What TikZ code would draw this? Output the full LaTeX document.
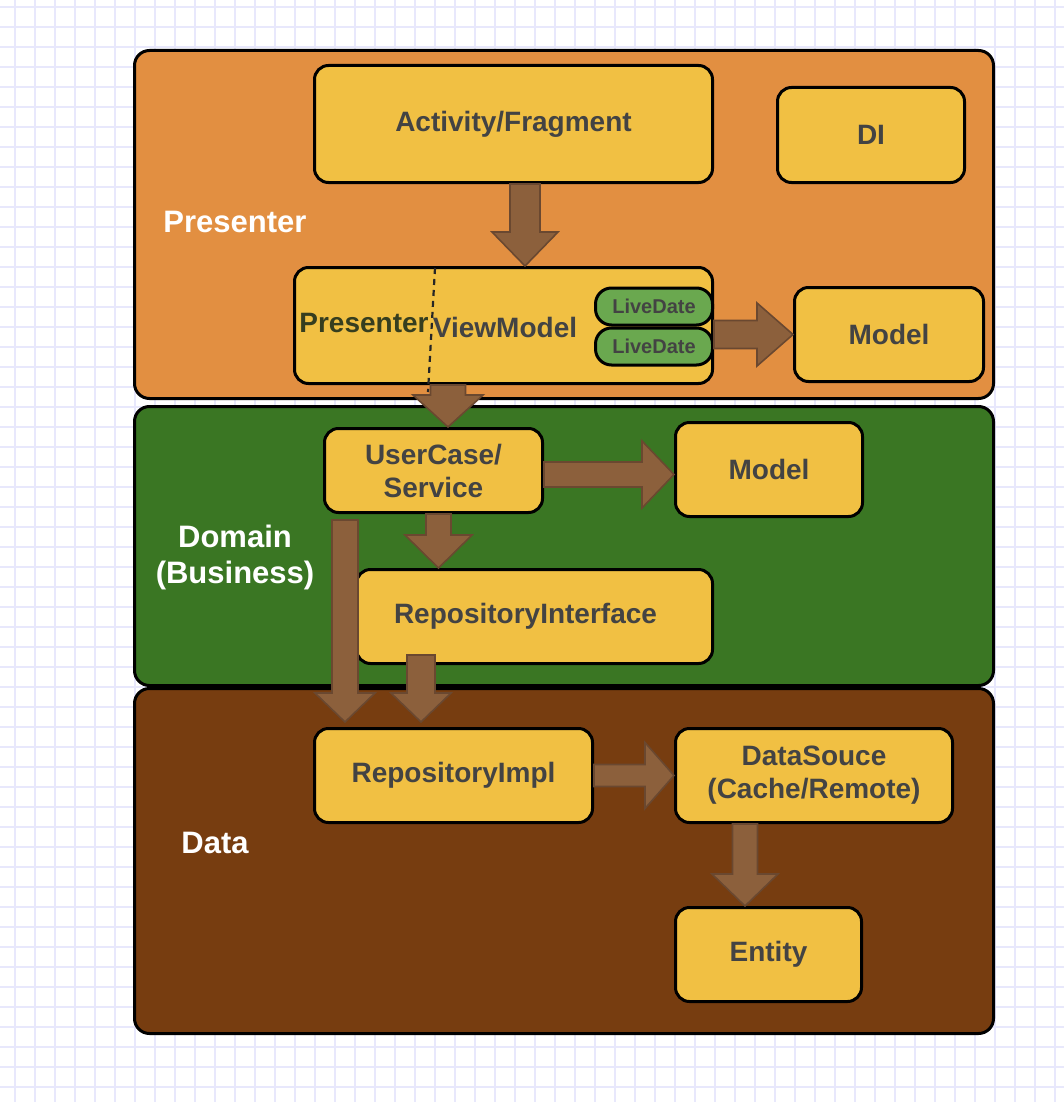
\documentclass[tikz,border=0pt]{standalone}
\usepackage{fontspec}
\setmainfont{Liberation Sans}
\usetikzlibrary{calc,positioning}
\definecolor{gridColor}{RGB}{232,232,252}
\definecolor{presColor}{HTML}{E28F41}
\definecolor{domColor}{HTML}{3A7623}
\definecolor{dataColor}{HTML}{773D10}
\definecolor{boxColor}{HTML}{F1C043}
\definecolor{liveColor}{HTML}{6AA84F}
\definecolor{txtColor}{HTML}{434343}
\definecolor{oliveColor}{HTML}{363E1F}
\definecolor{arrColor}{HTML}{8C603C}
\definecolor{arrLine}{HTML}{6A4830}
\tikzset{
	arr shaft/.store in=\ArrShaft,
	arr shaft=6.5pt,
	arr head/.store in=\ArrHead,
	arr head=16.5pt,
	arr len/.store in=\ArrLen,
	arr len=16pt,
	blockarrow/.style={fill=arrColor, draw=arrLine, line width=0.8pt, line join=miter},
	sz/.style 2 args={minimum width=(#1-3)*0.5pt, minimum height=(#2-3)*0.5pt},
	layer/.style={draw=black, line width=1.5pt, rounded corners=7.5pt, inner sep=0pt},
	box/.style={draw=black, line width=1.5pt, rounded corners=7pt, fill=boxColor,
			text=txtColor, font=\bfseries\fontsize{14}{16.5}\selectfont, align=center, inner sep=0pt},
	live/.style={box, fill=liveColor, rounded corners=8pt, font=\bfseries\fontsize{10}{12}\selectfont},
	lbl/.style={text=white, font=\bfseries\fontsize{15.5}{18}\selectfont, align=center},
	divider/.style={dash pattern=on 3pt off 2.5pt, line width=1.1pt, draw=black!85}
}
\newcommand{\blockarrow}[3][]{%
	\begin{scope}[#1]
		\coordinate (ba s) at #2;
		\coordinate (ba e) at #3;
		\coordinate (ba b) at ($(ba e)!\ArrLen!(ba s)$);
		\filldraw[blockarrow] ($(ba s)!\ArrShaft!90:(ba e)$) -- ($(ba b)!\ArrShaft!90:(ba e)$)
			-- ($(ba b)!\ArrHead!90:(ba e)$) -- (ba e) -- ($(ba b)!\ArrHead!-90:(ba e)$)
			-- ($(ba b)!\ArrShaft!-90:(ba e)$) -- ($(ba s)!\ArrShaft!-90:(ba e)$) -- cycle;
	\end{scope}}

\begin{document}
\begin{tikzpicture}[x=0.5pt, y=-0.5pt]
	\useasboundingbox (0,0) rectangle (1064,1102);
	\fill[white] (0,0) rectangle (1064,1102);
	\draw[gridColor, line width=0.6pt, step=10pt, shift={(15,7)}] (-15,-7) grid (1049,1095);
	
	% layers
	\node[layer, fill=presColor, sz={862}{351}] (pres) at (564,224.5) {};
	\node[layer, fill=domColor, sz={862}{282}] (dom) at (564,546) {};
	\node[layer, fill=dataColor, sz={862}{348}] (data) at (564,861) {};
	\node[lbl] (presLbl) at (235,222) {Presenter};
	\node[lbl] (domLbl) at (235,557) {Domain\\(Business)};
	\node[lbl] (dataLbl) at (215,843) {Data};
	
	% presenter
	\node[box, sz={401}{120}] (act) at (513.5,124) {Activity/Fragment};
	\node[box, sz={190}{98}] (di) at (871,135) {DI};
	\node[box, sz={421}{119}] (vm) at (503.5,325.5) {};
	\node[text=oliveColor, font=\bfseries\fontsize{14}{16}\selectfont, inner sep=0pt] (vmPres) at (364,323) {Presenter};
	\node[text=txtColor, font=\bfseries\fontsize{14}{16}\selectfont, inner sep=0pt] (vmView) at (505,327) {ViewModel};
	\node[live, sz={120}{40}] (ld1) at (654,306.5) {LiveDate};
	\node[live, sz={120}{40}] (ld2) at (654,346.5) {LiveDate};
	\node[box, sz={192}{97}] (pmodel) at (889,334.5) {Model};
	\draw[divider] ($(vm.north west)+(142,2)$) -- ($(vm.south west)+(135,7)$);
	
	% domain
	\node[box, sz={221}{87}] (uc) at (433.5,470.5) {UserCase/\\Service};
	\node[box, sz={190}{97}] (dmodel) at (769,469.5) {Model};
	\node[box, sz={359}{97}] (repoif) at (534.5,616.5) {RepositoryInterface\hspace*{9pt}};
	
	% data
	\node[box, sz={281}{97}] (repoimpl) at (453.5,775.5) {RepositoryImpl};
	\node[box, sz={280}{97}] (ds) at (814,775.5) {DataSouce\\(Cache/Remote)};
	\node[box, sz={189}{97}] (entity) at (768.5,954.5) {Entity};
	
	% arrows
	\coordinate (a1) at ($(act.south)+(11.5,0)$);
	\blockarrow[arr shaft=7.5pt, arr head=16.5pt, arr len=17pt]{(a1)}{(a1 |- vm.north)}
	\blockarrow[arr shaft=7pt, arr head=15.75pt, arr len=18pt]{(vm.east |- pmodel.west)}{(pmodel.west)}
	\coordinate (a3) at ($(uc.north)+(14.5,0)$);
	\blockarrow[arr shaft=8.75pt, arr head=17.5pt, arr len=16pt]{(a3 |- vm.south)}{(a3)}
	\coordinate (a4) at ($(uc.east)+(0,4)$);
	\blockarrow[arr shaft=6.25pt, arr head=16.75pt, arr len=16pt]{(a4)}{(a4 -| dmodel.west)}
	\coordinate (a5) at ($(uc.south)+(5,0)$);
	\blockarrow[arr shaft=6.25pt, arr head=16.75pt, arr len=16.5pt]{(a5)}{(a5 |- repoif.north)}
	\coordinate (a6) at ($(uc.south west)+(22,6)$);
	\blockarrow[arr shaft=6.5pt, arr head=15pt, arr len=14.5pt]{(a6)}{($(a6 |- repoimpl.north)+(0,-5)$)}
	\coordinate (a7) at ($(repoif.south west)+(66,-10)$);
	\blockarrow[arr shaft=7pt, arr head=15pt, arr len=14.5pt]{(a7)}{($(a7 |- repoimpl.north)+(0,-5)$)}
	\blockarrow[arr shaft=5.5pt, arr head=16.5pt, arr len=14.5pt]{(repoimpl.east)}{(ds.west)}
	\coordinate (a9) at ($(ds.south west)+(71,0)$);
	\blockarrow[arr shaft=6.25pt, arr head=16.5pt, arr len=16pt]{(a9)}{(a9 |- entity.north)}
\end{tikzpicture}
\end{document}
